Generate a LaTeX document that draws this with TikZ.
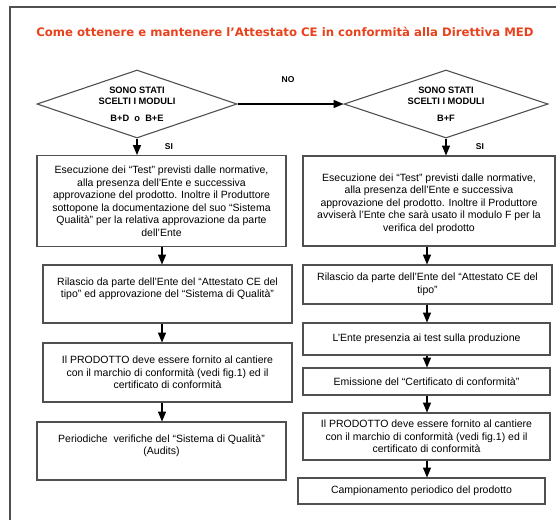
\documentclass[tikz,border=0pt]{standalone}
\usepackage{fontspec}
\setmainfont{Liberation Sans}
\newfontfamily\titlefont{DejaVu Sans}
\usepackage{tikz}
\usetikzlibrary{arrows}
\usetikzlibrary{shapes}
\definecolor{titlered}{RGB}{232,66,28}
\definecolor{linegray}{RGB}{80,80,80}

\begin{document}
\begin{tikzpicture}
      [x=1pt,y=-1pt,
        box/.style={draw=linegray,line width=1.1pt,align=center,inner sep=0pt,
          font=\fontsize{10.5}{12.5}\selectfont},
        choice/.style={diamond,aspect=2.9,draw=linegray,line width=1.1pt,align=center,
          inner sep=0pt,font=\bfseries\fontsize{9.3}{11}\selectfont},
        tag/.style={font=\bfseries\fontsize{8.5}{9}\selectfont},
        flow/.style={-triangle 45,line width=1.3pt}]
  \useasboundingbox (0,0) rectangle (556,520);
  \draw[linegray,line width=1.5pt] (10,520) -- (10,7) -- (556,7);
  \node[text=titlered,font=\titlefont\bfseries\fontsize{11.7}{13}\selectfont] (title) at (285,32)
    {Come ottenere e mantenere l’Attestato CE in conformità alla Direttiva MED};
  \node[choice,minimum width=200pt,minimum height=68pt] (dl) at (137,104)
    {SONO STATI\\SCELTI I MODULI\\[6pt]B+D~~o~~B+E};
  \node[choice,minimum width=204pt,minimum height=68pt] (dr) at (446,104)
    {SONO STATI\\SCELTI I MODULI\\[6pt]B+F};
  \node[tag] (no) at (288,80) {NO};
  \node[tag] (sil) at (169,147) {SI};
  \node[tag] (sir) at (480,147) {SI};
  \node[box,minimum width=249pt,minimum height=91pt] (b1l) at (161.5,201)
    {Esecuzione dei “Test” previsti dalle normative,\\alla presenza dell’Ente e successiva\\
     approvazione del prodotto. Inoltre il Produttore\\sottopone la documentazione del suo “Sistema\\
     Qualità” per la relativa approvazione da parte\\dell’Ente};
  \node[box,minimum width=249pt,minimum height=58pt] (b2l) at (167.5,294)
    {Rilascio da parte dell’Ente del “Attestato CE del\\tipo” ed approvazione del “Sistema di Qualità”\\ \mbox{}};
  \node[box,minimum width=249pt,minimum height=59pt] (b3l) at (167.5,372.5)
    {Il PRODOTTO deve essere fornito al cantiere\\con il marchio di conformità (vedi fig.1) ed il\\
     certificato di conformità};
  \node[box,minimum width=249pt,minimum height=58pt] (b4l) at (161.5,451)
    {Periodiche~ verifiche del “Sistema di Qualità”\\(Audits)\\ \mbox{}};
  \node[box,minimum width=252pt,minimum height=90pt] (b1r) at (429,201)
    {\mbox{}\\Esecuzione dei “Test” previsti dalle normative,\\alla presenza dell’Ente e successiva\\
     approvazione del prodotto. Inoltre il Produttore\\avviserà l’Ente che sarà usato il modulo F per la\\
     verifica del prodotto};
  \node[box,minimum width=249pt,minimum height=39pt] (b2r) at (427.5,284.5)
    {Rilascio da parte dell’Ente del “Attestato CE del\\tipo”};
  \node[box,minimum width=247pt,minimum height=32pt] (b3r) at (426.5,339)
    {L’Ente presenzia ai test sulla produzione};
  \node[box,minimum width=247pt,minimum height=27pt] (b4r) at (426.5,381.5)
    {Emissione del “Certificato di conformità”};
  \node[box,minimum width=247pt,minimum height=47pt] (b5r) at (426.5,436.5)
    {Il PRODOTTO deve essere fornito al cantiere\\con il marchio di conformità (vedi fig.1) ed il\\
     certificato di conformità};
  \node[box,minimum width=247pt,minimum height=26pt] (b6r) at (421.5,491)
    {Campionamento periodico del prodotto};
  \coordinate (cl) at (162,0);
  \coordinate (cr) at (427,0);
  \draw[flow] (dl) -- (dr);
  \draw[flow] (dl.south) -- (dl.south |- b1l.north);
  \draw[flow] (dr.south) -- (dr.south |- b1r.north);
  \foreach \a/\b in {b1l/b2l,b2l/b3l,b3l/b4l}
    \draw[flow] (\a.south -| cl) -- (\b.north -| cl);
  \foreach \a/\b in {b1r/b2r,b2r/b3r,b3r/b4r,b4r/b5r,b5r/b6r}
    \draw[flow] (\a.south -| cr) -- (\b.north -| cr);
\end{tikzpicture}
\end{document}
